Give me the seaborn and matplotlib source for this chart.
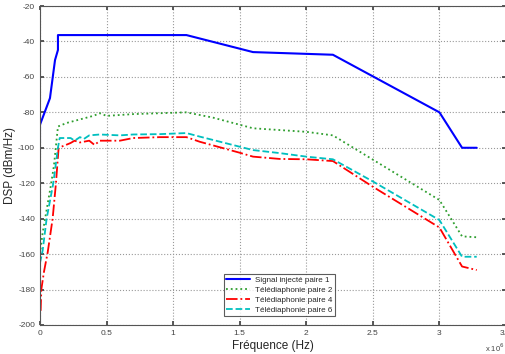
import matplotlib
matplotlib.use("Agg")
from matplotlib import pyplot as plt
from matplotlib.ticker import FuncFormatter, MultipleLocator
import numpy as np
import seaborn as sb

# frequencies in MHz (scaled to Hz below), DSP in dBm/Hz
f_sig = [0, 0, 0.075, 0.113, 0.135, 0.135, 1.1, 1.6, 2.2, 3.0, 3.17, 3.28]
p_sig = [-97, -87, -72, -50.5, -44.8, -36.4, -36.4, -46, -47.5, -80, -100, -100]

f_p2 = [0, 0.02, 0.05, 0.08, 0.105, 0.135, 0.2, 0.3, 0.4, 0.45, 0.5, 0.7, 0.9, 1.1,
        1.3, 1.5, 1.6, 1.8, 2.0, 2.2, 3.0, 3.17, 3.28]
p_p2 = [-160, -148, -135, -122, -110, -88, -86, -84, -82, -80.5, -82, -81, -80.5, -80,
        -83, -87, -89, -90, -91, -93, -129.5, -150, -150.5]

f_p4 = [0.005, 0.01, 0.03, 0.058, 0.095, 0.12, 0.14, 0.195, 0.23, 0.26, 0.3, 0.37, 0.41,
        0.45, 0.6, 0.7, 0.9, 1.1, 1.2, 1.5, 1.6, 1.8, 2.0, 2.2, 2.5, 3.0, 3.17, 3.28]
p_p4 = [-192, -180, -170, -159, -140, -120, -100, -98.4, -97.3, -96, -97, -96, -98.4,
        -96, -96, -94.5, -94, -94, -96.6, -102.8, -105, -106.3, -106.5, -107.5, -122,
        -145, -167, -169]

f_p6 = [0, 0.02, 0.05, 0.075, 0.1, 0.135, 0.148, 0.23, 0.26, 0.3, 0.33, 0.37, 0.45,
        0.6, 0.7, 0.9, 1.1, 1.2, 1.5, 1.6, 1.8, 2.0, 2.2, 2.5, 3.0, 3.17, 3.28]
p_p6 = [-165, -158, -140, -130, -120, -100, -94.5, -94.5, -96, -94, -95, -93, -92.5,
        -93, -92.5, -92.3, -91.7, -93.7, -99.4, -101.3, -103, -105, -106.5, -119,
        -140.8, -161.5, -161.5]

labels = ["Signal injecté paire 1", "Télédiaphonie paire 2",
          "Télédiaphonie paire 4", "Télédiaphonie paire 6"]

sb.set_theme(style="whitegrid")
plt.rcParams["font.family"] = ["Liberation Sans", "DejaVu Sans"]

fig = plt.figure(figsize=(5.06, 3.54), dpi=100)
ax = fig.add_axes([0.079, 0.082, 0.921, 0.901])

series = [(f_sig, p_sig, "#0000ff", "-", 1.5),
          (f_p2, p_p2, "#2e9e2e", ":", 1.3),
          (f_p4, p_p4, "#ff0000", "-.", 1.3),
          (f_p6, p_p6, "#00bfbf", "--", 1.3)]
for (f, p, c, ls, lw), lab in zip(series, labels):
    sb.lineplot(x=np.array(f) * 1e6, y=p, estimator=None, sort=False, color=c,
                linestyle=ls, linewidth=lw, label=lab, ax=ax)

ax.set_xlim(0, 3.5e6)
ax.set_ylim(-200, -20)
ax.xaxis.set_major_locator(MultipleLocator(0.5e6))
ax.yaxis.set_major_locator(MultipleLocator(20))
ax.xaxis.set_major_formatter(FuncFormatter(lambda v, _: f"{v / 1e6:g}"))
ax.yaxis.set_major_formatter(FuncFormatter(lambda v, _: f"{v:g}"))
ax.tick_params(labelsize=6, colors="#444444", length=3, direction="in",
               left=True, bottom=True, right=True, top=True)
ax.grid(True, linestyle=":", color="#999999", linewidth=0.8)
for s in ax.spines.values():
    s.set_color("#555555")
    s.set_linewidth(0.8)

ax.set_xlabel("Fréquence (Hz)", fontsize=8.5, labelpad=2)
ax.set_ylabel("DSP (dBm/Hz)", fontsize=8.5)
ax.yaxis.set_label_coords(-0.052, 0.5)
ax.text(0.996, -0.052, r"x 10$^6$", transform=ax.transAxes, fontsize=5.5,
        color="#444444", ha="right", va="top")

leg = ax.legend(loc="lower left", bbox_to_anchor=(0.386, 0.015), fontsize=5.8,
                frameon=True, fancybox=False, borderpad=0.3, labelspacing=0.3,
                handlelength=3.0, handletextpad=0.6)
leg.get_frame().set_edgecolor("#333333")
leg.get_frame().set_linewidth(0.8)

fig.savefig("out.png", dpi=100)
